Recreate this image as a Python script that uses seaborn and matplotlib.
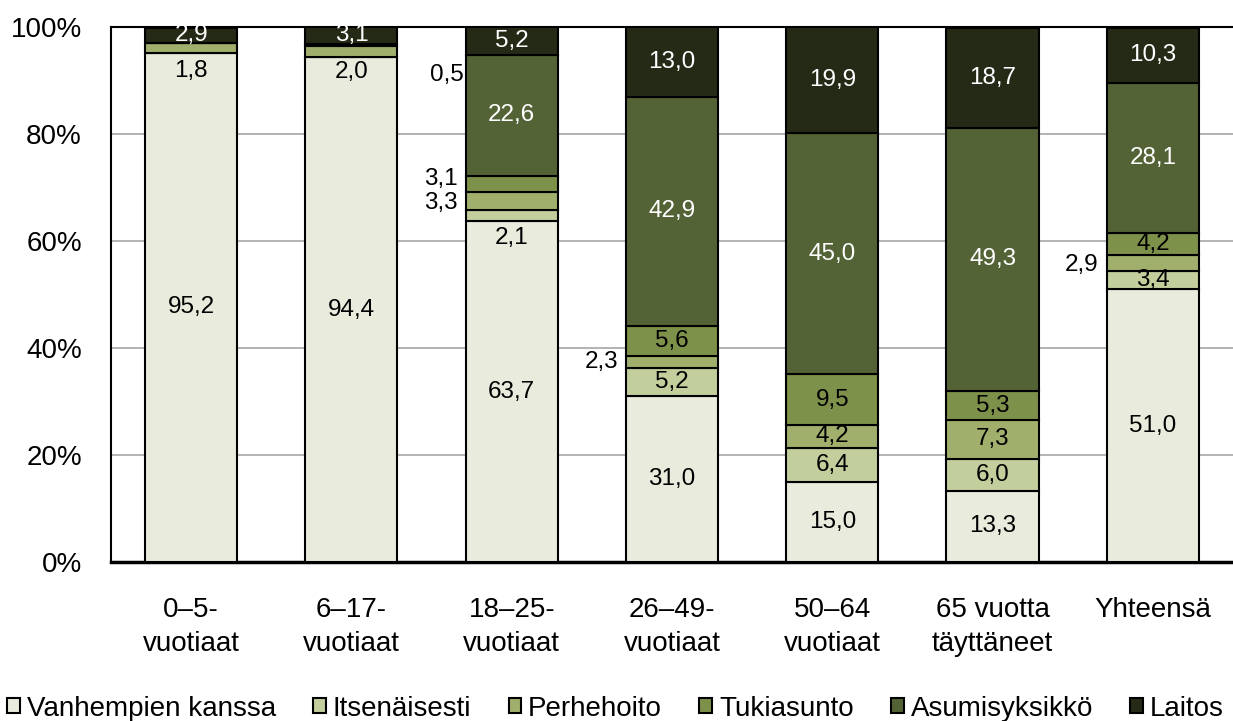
import numpy as np
import pandas as pd
import matplotlib.pyplot as plt
import seaborn as sns

categories = ['0–5-\nvuotiaat', '6–17-\nvuotiaat', '18–25-\nvuotiaat', '26–49-\nvuotiaat',
              '50–64\nvuotiaat', '65 vuotta\ntäyttäneet', 'Yhteensä']
series = ['Vanhempien kanssa', 'Itsenäisesti', 'Perhehoito', 'Tukiasunto', 'Asumisyksikkö', 'Laitos']
vanhempien = [95.2, 94.4, 63.7, 31.0, 15.0, 13.3, 51.0]
itsenaisesti = [0.0, 0.0, 2.1, 5.2, 6.4, 6.0, 3.4]
perhehoito = [1.8, 2.0, 3.3, 2.3, 4.2, 7.3, 2.9]
tukiasunto = [0.0, 0.5, 3.1, 5.6, 9.5, 5.3, 4.2]
asumisyksikko = [0.0, 0.0, 22.6, 42.9, 45.0, 49.3, 28.1]
laitos = [2.9, 3.1, 5.2, 13.0, 19.9, 18.7, 10.3]
colors = ['#E9ECDD', '#C2CE9C', '#A0B06C', '#7E914A', '#546335', '#252A16']

# label placement for the small segments (category index, series index) -> (where, dy)
special = {(0, 2): ('c', -4.3), (1, 2): ('c', -3.8), (1, 3): ('right', -5.6),
           (2, 1): ('c', -4.1), (2, 2): ('left', -0.3), (2, 3): ('left', 0.9),
           (3, 2): ('left', 0), (6, 2): ('left', -0.4)}

values = [vanhempien, itsenaisesti, perhehoito, tukiasunto, asumisyksikko, laitos]
df = pd.DataFrame({s: v for s, v in zip(series, values)}, index=categories)

sns.set_style('white')
plt.rcParams['font.family'] = ['Liberation Sans', 'DejaVu Sans']
plt.rcParams['text.color'] = 'black'
plt.rcParams['xtick.color'] = 'black'
plt.rcParams['ytick.color'] = 'black'

fig = plt.figure(figsize=(12.33, 7.21), dpi=100)
ax = fig.add_axes([0.090, 0.2205, 0.910, 0.742])

ax.set_axisbelow(True)
ax.grid(axis='y', color='#A6A6A6', linewidth=1.2)

bw = 0.575
bottom = np.zeros(len(categories))
for j, s in enumerate(series):
    sns.barplot(x=categories, y=df[s].values, bottom=bottom, color=colors[j],
                edgecolor='black', linewidth=1.5, width=bw, saturation=1,
                ax=ax, label=s, zorder=3)
    for i, v in enumerate(df[s].values):
        if v <= 0:
            continue
        txt = f'{v:.1f}'.replace('.', ',')
        where, dy = special.get((i, j), ('c', 0))
        y = bottom[i] + v / 2 + dy
        tc = 'white' if j >= 4 else 'black'
        if where == 'left':
            ax.text(i - bw / 2 - 0.05, y, txt, ha='right', va='center', fontsize=17.5, color='black', zorder=5)
        elif where == 'right':
            ax.text(i + bw / 2 + 0.2, y, txt, ha='left', va='center', fontsize=17.5, color='black', zorder=5)
        else:
            ax.text(i, y, txt, ha='center', va='center', fontsize=17.5, color=tc, zorder=5)
    bottom += df[s].values

handles, labels = ax.get_legend_handles_labels()
ax.get_legend().remove()

ax.set_xlim(-0.5, 6.5)
ax.set_ylim(0, 100)
ax.set_yticks(range(0, 101, 20))
ax.set_yticklabels([f'{t}%' for t in range(0, 101, 20)])
ax.tick_params(axis='y', length=0, pad=21, labelsize=20)
ax.tick_params(axis='x', length=0, pad=25, labelsize=20)
for lab in ax.get_xticklabels():
    lab.set_linespacing(1.4)

for side in ['left', 'top']:
    ax.spines[side].set_color('black')
    ax.spines[side].set_linewidth(1.5)
ax.spines['bottom'].set_color('black')
ax.spines['bottom'].set_linewidth(2.5)
ax.spines['right'].set_visible(False)

fig.legend(handles, labels, loc='lower left', bbox_to_anchor=(-0.01, -0.028), ncol=6,
           frameon=False, fontsize=20, handlelength=0.45, handleheight=0.45,
           handletextpad=0.25, columnspacing=1.35, borderpad=0.2)

fig.savefig('out.png', dpi=100)
